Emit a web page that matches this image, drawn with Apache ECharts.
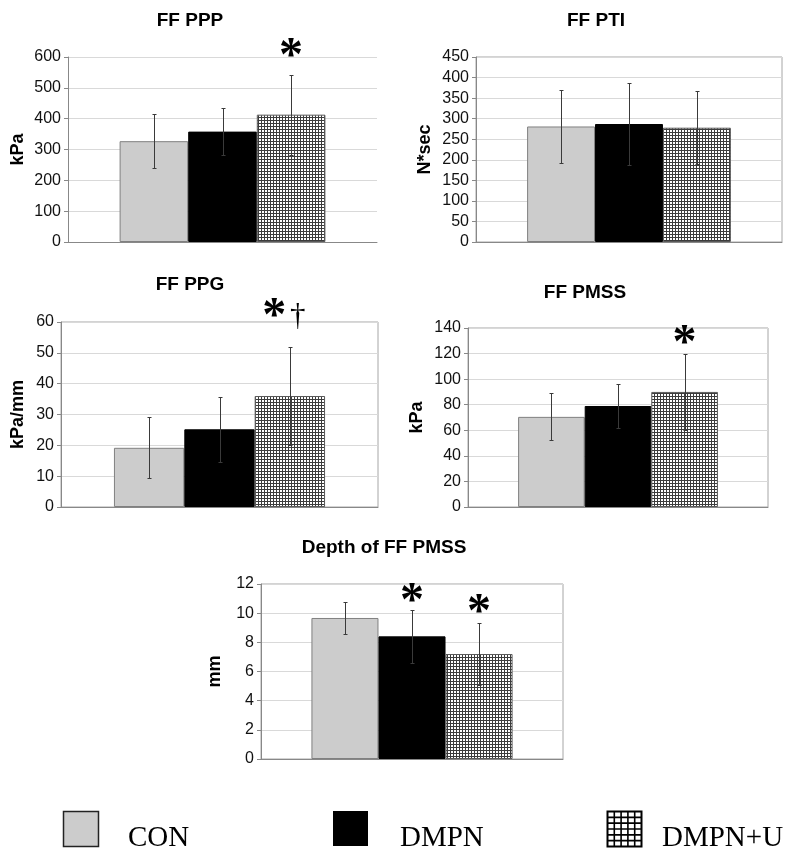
<!DOCTYPE html>
<html><head><meta charset="utf-8">
<script src="https://cdn.jsdelivr.net/npm/echarts@6/dist/echarts.min.js"></script>
<style>html,body{margin:0;padding:0;background:#fff}#c{width:800px;height:858px}</style>
</head><body><div id="c"></div>
<script>
// ---- data ----
const groups = ['CON', 'DMPN', 'DMPN+U'];
const titles = ['FF PPP', 'FF PTI', 'FF PPG', 'FF PMSS', 'Depth of FF PMSS'];
const units = ['kPa', 'N*sec', 'kPa/mm', 'kPa', 'mm'];
const yMax = [600, 450, 60, 140, 12];
const yStep = [100, 50, 10, 20, 2];

const pppMean = [327, 358, 413];     const pppSd = [88, 75, 130];
const ptiMean = [281, 287, 278];     const ptiSd = [89, 99, 89];
const ppgMean = [19.2, 25.2, 36];    const ppgSd = [9.9, 10.5, 16];
const pmssMean = [70.5, 79, 90];     const pmssSd = [18.3, 17, 30];
const depthMean = [9.67, 8.41, 7.2]; const depthSd = [1.1, 1.83, 2.1];

// significance marks and the value they sit at
const pppSig = ['', '', '*'];     const pppSigAt = [0, 0, 627];
const ptiSig = ['', '', ''];      const ptiSigAt = [0, 0, 0];
const ppgSig = ['', '', '*†'];    const ppgSigAt = [0, 0, 64.2];
const pmssSig = ['', '', '*'];    const pmssSigAt = [0, 0, 134];
const depthSig = ['', '*', '*'];  const depthSigAt = [0, 11.37, 10.58];

// ---- styling / layout ----
const BAR_FRAC = 0.222;
const pat = document.createElement('canvas'); pat.width = 3; pat.height = 3;
const pg = pat.getContext('2d');
pg.fillStyle = '#ffffff'; pg.fillRect(0, 0, 3, 3);
pg.fillStyle = '#3c3c3c'; pg.fillRect(0, 0, 3, 1); pg.fillRect(0, 0, 1, 3);
const fills = ['#cccccc', '#000000', {image: pat, repeat: 'repeat'}];
const borders = ['#808080', '#000000', '#5a5a5a'];

const panels = [
  {mean: pppMean, sd: pppSd, sig: pppSig, sigAt: pppSigAt, grid: {left: 68, top: 57, width: 309, height: 185}, border: false, tx: 190, ty: 21, gap: 41},
  {mean: ptiMean, sd: ptiSd, sig: ptiSig, sigAt: ptiSigAt, grid: {left: 476, top: 57, width: 306, height: 185}, border: true, tx: 596, ty: 21, gap: 42},
  {mean: ppgMean, sd: ppgSd, sig: ppgSig, sigAt: ppgSigAt, grid: {left: 61, top: 322, width: 317, height: 185}, border: true, tx: 190, ty: 285, gap: 34},
  {mean: pmssMean, sd: pmssSd, sig: pmssSig, sigAt: pmssSigAt, grid: {left: 468, top: 328, width: 300, height: 179}, border: true, tx: 585, ty: 293, gap: 42},
  {mean: depthMean, sd: depthSd, sig: depthSig, sigAt: depthSigAt, grid: {left: 261, top: 584, width: 302, height: 175}, border: true, tx: 384, ty: 548, gap: 37}
];

const grid = [], xAxis = [], yAxis = [], series = [], graphic = [];
panels.forEach((p, k) => {
  grid.push(Object.assign({show: p.border, borderColor: '#a6a6a6', borderWidth: 1, backgroundColor: 'transparent'}, p.grid));
  xAxis.push({type: 'category', gridIndex: k, data: [''], axisTick: {show: false}, axisLabel: {show: false},
    axisLine: {lineStyle: {color: '#888888', width: 1}}});
  yAxis.push({type: 'value', gridIndex: k, min: 0, max: yMax[k], interval: yStep[k],
    name: units[k], nameLocation: 'middle', nameGap: p.gap,
    nameTextStyle: {fontFamily: 'Liberation Sans', fontWeight: 'bold', fontSize: 18, color: '#000'},
    axisLine: {show: true, lineStyle: {color: '#888888', width: 1}},
    axisTick: {show: true, length: 4, lineStyle: {color: '#888888'}},
    axisLabel: {fontFamily: 'Liberation Sans', fontSize: 16, color: '#111', margin: 7},
    splitLine: {lineStyle: {color: '#d9d9d9', width: 1}}});
  groups.forEach((gname, i) => {
    series.push({type: 'bar', name: gname, xAxisIndex: k, yAxisIndex: k, data: [p.mean[i]],
      barWidth: (BAR_FRAC * 100) + '%', barGap: '0%',
      itemStyle: {color: fills[i], borderColor: borders[i], borderWidth: 1}, silent: true, z: 2});
  });
  const mean = p.mean, sd = p.sd;
  series.push({type: 'custom', xAxisIndex: k, yAxisIndex: k, z: 5, silent: true,
    data: mean.map(m => [0, m]),
    renderItem: function (params, api) {
      const i = params.dataIndex;
      const c = api.coord([0, mean[i]]);
      const bw = api.size([1, 0])[0] * BAR_FRAC;
      const x = Math.round(c[0] + (i - 1) * bw) + 0.5;
      const y1 = Math.round(api.coord([0, mean[i] + sd[i]])[1]) + 0.5;
      const y0 = Math.round(api.coord([0, mean[i] - sd[i]])[1]) + 0.5;
      const st = {stroke: '#3a3a3a', lineWidth: 1};
      return {type: 'group', children: [
        {type: 'line', shape: {x1: x, y1: y1, x2: x, y2: y0}, style: st},
        {type: 'line', shape: {x1: x - 2, y1: y1, x2: x + 2, y2: y1}, style: st},
        {type: 'line', shape: {x1: x - 2, y1: y0, x2: x + 2, y2: y0}, style: st}
      ]};
    }});
  const sig = p.sig, sigAt = p.sigAt;
  series.push({type: 'custom', xAxisIndex: k, yAxisIndex: k, z: 6, silent: true, clip: false,
    data: sigAt.map(v => [0, Math.min(v, yMax[k])]),
    renderItem: function (params, api) {
      const i = params.dataIndex;
      if (!sig[i]) return null;
      const c = api.coord([0, 0]);
      const bw = api.size([1, 0])[0] * BAR_FRAC;
      const x = c[0] + (i - 1) * bw;
      const yTop = api.coord([0, yMax[k]])[1];
      const yBot = api.coord([0, 0])[1];
      const y = yBot - (yBot - yTop) * sigAt[i] / yMax[k];
      const children = [];
      const hasDagger = sig[i].indexOf('†') >= 0;
      const ax = hasDagger ? x - 15.5 : x;
      children.push({type: 'text', x: ax, y: y + 9, style: {text: '*', font: 'bold 48px "Liberation Serif"', fill: '#000', align: 'center', verticalAlign: 'middle'}});
      if (hasDagger) children.push({type: 'text', x: x + 8, y: y + 8, style: {text: '†', font: '31px "Liberation Serif"', fill: '#000', align: 'center', verticalAlign: 'middle'}});
      return {type: 'group', children: children};
    }});
  graphic.push({type: 'text', x: p.tx, y: p.ty, style: {text: titles[k], font: 'bold 19px "Liberation Sans"', fill: '#000', align: 'center', verticalAlign: 'middle'}});
});

// legend (drawn as graphics)
const legX = [63, 333, 607], legTextX = [128, 400, 662];
graphic.push({type: 'rect', shape: {x: legX[0] + 0.5, y: 811.5, width: 35, height: 35}, style: {fill: '#cccccc', stroke: '#222', lineWidth: 1.5}});
graphic.push({type: 'rect', shape: {x: legX[1], y: 811, width: 35, height: 35}, style: {fill: '#000000'}});
graphic.push({type: 'rect', shape: {x: legX[2] + 0.5, y: 811.5, width: 34, height: 35}, style: {fill: '#ffffff', stroke: '#000', lineWidth: 2}});
for (let c = 1; c < 5; c++) {
  const xx = legX[2] + 0.5 + c * 34 / 5;
  graphic.push({type: 'line', shape: {x1: xx, y1: 811.5, x2: xx, y2: 846.5}, style: {stroke: '#000', lineWidth: 1.6}});
}
for (let r = 1; r < 6; r++) {
  const yy = 811.5 + r * 35 / 6;
  graphic.push({type: 'line', shape: {x1: legX[2] + 0.5, y1: yy, x2: legX[2] + 34.5, y2: yy}, style: {stroke: '#000', lineWidth: 1.6}});
}
groups.forEach((gname, i) => {
  graphic.push({type: 'text', x: legTextX[i], y: 838, style: {text: gname, font: '29px "Liberation Serif"', fill: '#000', align: 'left', verticalAlign: 'middle'}});
});

const chart = echarts.init(document.getElementById('c'));
chart.setOption({animation: false, backgroundColor: '#ffffff', grid, xAxis, yAxis, series, graphic});
</script>
</body></html>
